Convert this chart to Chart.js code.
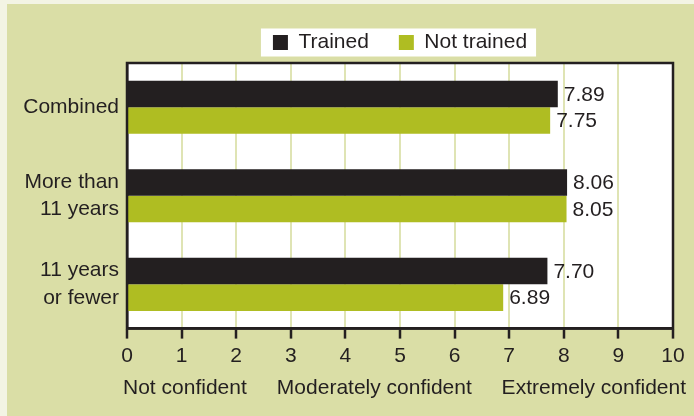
<!DOCTYPE html>
<html>
<head>
<meta charset="utf-8">
<script src="https://cdn.jsdelivr.net/npm/chart.js@4.4.1/dist/chart.umd.min.js"></script>
<style>
  html, body { margin: 0; padding: 0; background: #f3f4e4; }
  canvas { display: block; }
</style>
</head>
<body>
<canvas id="confChart" width="694" height="416"></canvas>
<script>
const categories = ['Combined', ['More than', '11 years'], ['11 years', 'or fewer']];
const trained = [7.89, 8.06, 7.70];
const notTrained = [7.75, 8.05, 6.89];
const scaleNames = ['Not confident', 'Moderately confident', 'Extremely confident'];
const scaleNameAt = [1.06, 4.53, 8.55];

const FONT = "'Liberation Sans', Arial, sans-serif";
const SIZE = 21;
const INK = '#231f20';
const GREEN = '#afbd22';

// fond vert, zone du graphique blanche, cadre blanc de la légende
const backdrop = {
  id: 'backdrop',
  beforeDraw(chart) {
    const { ctx, chartArea: a, legend } = chart;
    ctx.save();
    ctx.fillStyle = '#dadea6';
    ctx.fillRect(7, 4, chart.width - 7, chart.height - 4);
    ctx.fillStyle = '#ffffff';
    ctx.fillRect(a.left, a.top, a.right - a.left, a.bottom - a.top);
    const boxes = legend.legendHitBoxes;
    if (boxes && boxes.length) {
      const first = boxes[0];
      const last = boxes[boxes.length - 1];
      const cy = first.top + first.height / 2;
      ctx.fillRect(first.left - 12, cy - 14, last.left + last.width - first.left + 21, 28);
    }
    ctx.restore();
  },
  afterDatasetsDraw(chart) {
    const { ctx, chartArea: a } = chart;
    ctx.save();
    ctx.strokeStyle = INK;
    ctx.lineWidth = 2.5;
    ctx.strokeRect(a.left, a.top, a.right - a.left, a.bottom - a.top);
    // valeurs au bout des barres
    ctx.fillStyle = INK;
    ctx.font = SIZE + 'px ' + FONT;
    ctx.textBaseline = 'middle';
    ctx.textAlign = 'left';
    chart.data.datasets.forEach((ds, i) => {
      chart.getDatasetMeta(i).data.forEach((bar, j) => {
        ctx.fillText(ds.data[j].toFixed(2), bar.x + 6, bar.y + 1);
      });
    });
    ctx.restore();
  }
};

new Chart(document.getElementById('confChart'), {
  type: 'bar',
  data: {
    labels: categories,
    datasets: [
      { label: 'Trained', data: trained, backgroundColor: INK },
      { label: 'Not trained', data: notTrained, backgroundColor: GREEN },
    ],
  },
  options: {
    indexAxis: 'y',
    responsive: false,
    animation: false,
    barPercentage: 1,
    categoryPercentage: 0.6,
    layout: { padding: { left: 7, right: 21, top: 2, bottom: 13 } },
    plugins: {
      tooltip: { enabled: false },
      legend: {
        position: 'top',
        fullSize: false,
        labels: {
          boxWidth: 15,
          boxHeight: 15,
          padding: 30,
          color: INK,
          font: { family: FONT, size: SIZE },
        },
      },
    },
    scales: {
      y: {
        grid: { display: false, drawTicks: false },
        border: { color: INK, width: 2.5 },
        ticks: { color: INK, padding: 8, font: { family: FONT, size: SIZE, lineHeight: 1.3 } },
        afterFit(axis) { axis.width = 120; },
      },
      x: {
        min: 0,
        max: 10,
        weight: 0,
        grid: { color: '#dfe4b4', lineWidth: 2, tickColor: INK, tickWidth: 2.5, tickLength: 10 },
        border: { color: INK, width: 2.5 },
        ticks: { stepSize: 1, color: INK, padding: 5, maxRotation: 0, font: { family: FONT, size: SIZE } },
        afterFit(axis) { axis.paddingLeft = 0; axis.paddingRight = 0; },
      },
      x2: {
        type: 'linear',
        position: 'bottom',
        min: 0,
        max: 10,
        weight: 1,
        grid: { display: false, drawTicks: false },
        border: { display: false },
        afterBuildTicks(axis) { axis.ticks = scaleNameAt.map(v => ({ value: v })); },
        afterFit(axis) { axis.paddingLeft = 0; axis.paddingRight = 0; },
        ticks: {
          autoSkip: false,
          maxRotation: 0,
          padding: 2,
          color: INK,
          font: { family: FONT, size: SIZE },
          callback: (v, i) => scaleNames[i],
        },
      },
    },
  },
  plugins: [backdrop],
});
</script>
</body>
</html>
